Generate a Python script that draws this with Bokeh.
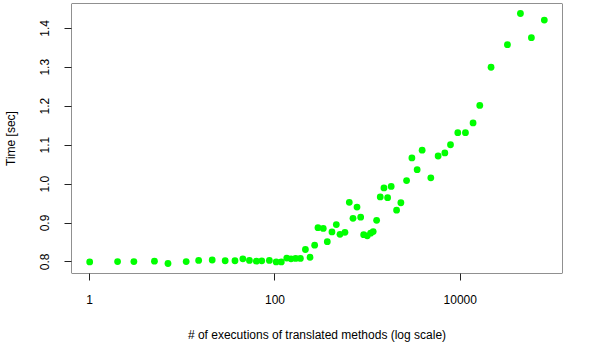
import math
from bokeh.plotting import figure
from bokeh.models import FixedTicker, Range1d, NumeralTickFormatter, PrintfTickFormatter, BoxAnnotation
from bokeh.embed import file_html
from bokeh.resources import INLINE

executions = [1, 2, 3, 5, 7, 11, 15, 21, 29, 37, 45, 53, 63, 72, 87, 103, 117, 134, 149, 167,
              188, 213, 239, 268, 291, 332, 367, 412, 459, 503, 569, 634, 695, 768, 841, 906,
              991, 1077, 1148, 1250, 1368, 1500, 1643, 1796, 2053, 2284, 2632, 3004, 3423, 3875,
              4808, 5767, 6812, 7840, 9399, 11368, 13741, 16231, 21478, 32271, 44568, 58546, 80701]
time_sec = [0.800, 0.801, 0.801, 0.802, 0.796, 0.801, 0.804, 0.805, 0.803, 0.803, 0.808, 0.804,
            0.802, 0.803, 0.804, 0.800, 0.800, 0.810, 0.808, 0.809, 0.809, 0.832, 0.812, 0.843,
            0.888, 0.886, 0.852, 0.877, 0.896, 0.871, 0.876, 0.953, 0.912, 0.941, 0.915, 0.870,
            0.867, 0.874, 0.878, 0.907, 0.967, 0.990, 0.965, 0.994, 0.933, 0.952, 1.009, 1.067,
            1.037, 1.087, 1.016, 1.072, 1.080, 1.101, 1.132, 1.132, 1.157, 1.202, 1.300, 1.358,
            1.438, 1.376, 1.421]
x_ticks = [1, 100, 10000]
y_ticks = [0.8, 0.9, 1.0, 1.1, 1.2, 1.3, 1.4]

# R-style 4% axis extension
lx0, lx1 = math.log10(min(executions)), math.log10(max(executions))
px = 0.04 * (lx1 - lx0)
y0, y1 = min(time_sec), max(time_sec)
py = 0.04 * (y1 - y0)

FONT = "Liberation Sans"

p = figure(width=598, height=344, x_axis_type="log",
           x_range=Range1d(10 ** (lx0 - px), 10 ** (lx1 + px)),
           y_range=Range1d(y0 - py, y1 + py),
           output_backend="svg", toolbar_location=None,
           min_border_left=70, min_border_right=36, min_border_top=3, min_border_bottom=71)

p.scatter(executions, time_sec, size=6.8, fill_color="#00ff00", line_color=None)

p.grid.visible = False
p.outline_line_color = None
p.background_fill_color = "white"
p.border_fill_color = "white"
p.add_layout(BoxAnnotation(fill_color=None, fill_alpha=0, line_color="#222222",
                           line_alpha=1.0, line_width=1, level="overlay"))

for ax in (p.xaxis[0], p.yaxis[0]):
    ax.axis_line_color = None
    ax.major_tick_line_color = "#222222"
    ax.major_tick_out = 7
    ax.major_tick_in = 0
    ax.minor_tick_line_color = None
    ax.major_label_text_font = FONT
    ax.major_label_text_font_size = "12px"
    ax.major_label_text_color = "black"
    ax.axis_label_text_font = FONT
    ax.axis_label_text_font_size = "12px"
    ax.axis_label_text_font_style = "normal"
    ax.axis_label_text_color = "black"

p.xaxis.ticker = FixedTicker(ticks=x_ticks)
p.xaxis.formatter = NumeralTickFormatter(format="0")
p.xaxis.major_label_standoff = 14
p.xaxis.axis_label = "# of executions of translated methods (log scale)"
p.xaxis.axis_label_standoff = 21

p.yaxis.ticker = FixedTicker(ticks=y_ticks)
p.yaxis.formatter = PrintfTickFormatter(format="%.1f")
p.yaxis.major_label_orientation = "vertical"
p.yaxis.major_label_standoff = 15
p.yaxis.axis_label = "Time [sec]"
p.yaxis.axis_label_standoff = 20

open("out.html", "w").write(file_html(p, INLINE))
